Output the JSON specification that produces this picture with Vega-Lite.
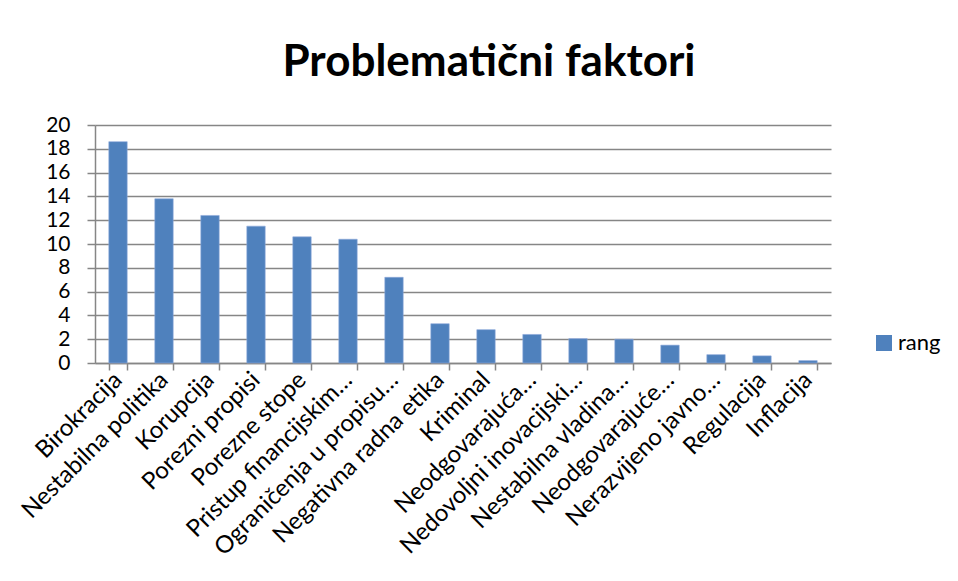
{
  "$schema": "https://vega.github.io/schema/vega-lite/v6.json",
  "autosize": {"type": "none"},
  "padding": {"left": 95, "top": 125, "right": 127, "bottom": 218},
  "width": 736,
  "height": 238,
  "background": "white",
  "title": {
    "text": "Problematični faktori",
    "font": "Lato",
    "fontSize": 44,
    "fontWeight": "bold",
    "color": "#000000",
    "anchor": "middle",
    "dx": 26,
    "offset": 29
  },
  "data": {
    "values": [
      {"faktor": "Birokracija", "rang": 18.6},
      {"faktor": "Nestabilna politika", "rang": 13.8},
      {"faktor": "Korupcija", "rang": 12.4},
      {"faktor": "Porezni propisi", "rang": 11.5},
      {"faktor": "Porezne stope", "rang": 10.6},
      {"faktor": "Pristup financijskim…", "rang": 10.4},
      {"faktor": "Ograničenja u propisu…", "rang": 7.2},
      {"faktor": "Negativna radna etika", "rang": 3.3},
      {"faktor": "Kriminal", "rang": 2.8},
      {"faktor": "Neodgovarajuća…", "rang": 2.4},
      {"faktor": "Nedovoljni inovacijski…", "rang": 2.05},
      {"faktor": "Nestabilna vladina…", "rang": 2.0},
      {"faktor": "Neodgovarajuće…", "rang": 1.5},
      {"faktor": "Nerazvijeno javno…", "rang": 0.7},
      {"faktor": "Regulacija", "rang": 0.6},
      {"faktor": "Inflacija", "rang": 0.2}
    ]
  },
  "mark": {"type": "bar", "color": "#4F81BD", "stroke": "#8EAADB", "strokeWidth": 0.6},
  "encoding": {
    "x": {
      "field": "faktor",
      "type": "nominal",
      "sort": null,
      "title": null,
      "scale": {"paddingInner": 0.6, "paddingOuter": 0.3},
      "axis": {
        "labelAngle": -45,
        "labelAlign": "right",
        "labelBaseline": "middle",
        "labelFont": "Lato",
        "labelFontSize": 24,
        "labelColor": "#000000",
        "labelPadding": 6,
        "labelLimit": 500,
        "labelOverlap": false,
        "tickBand": "extent",
        "tickSize": 7,
        "tickColor": "#868686",
        "tickWidth": 1.5,
        "domainColor": "#868686",
        "domainWidth": 1.5,
        "grid": false
      }
    },
    "y": {
      "field": "rang",
      "type": "quantitative",
      "title": null,
      "scale": {"domain": [0, 20], "nice": false},
      "axis": {
        "values": [0, 2, 4, 6, 8, 10, 12, 14, 16, 18, 20],
        "labelFont": "Lato",
        "labelFontSize": 21,
        "labelColor": "#000000",
        "labelPadding": 17,
        "tickSize": 8,
        "tickColor": "#868686",
        "tickWidth": 1.5,
        "domainColor": "#868686",
        "domainWidth": 1.5,
        "grid": true,
        "gridColor": "#868686",
        "gridWidth": 1.5
      }
    },
    "color": {
      "datum": "rang",
      "type": "nominal",
      "scale": {"range": ["#4F81BD"]},
      "legend": {
        "title": null,
        "orient": "none",
        "legendX": 778,
        "legendY": 207,
        "symbolType": "square",
        "symbolSize": 256,
        "symbolStrokeWidth": 0,
        "labelFont": "Lato",
        "labelFontSize": 22,
        "labelColor": "#000000",
        "labelOffset": 3
      }
    }
  },
  "config": {"view": {"stroke": null}}
}
